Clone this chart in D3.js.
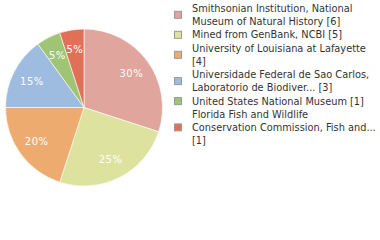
<!DOCTYPE html>
<html>
<head>
<meta charset="utf-8">
<script src="https://cdn.jsdelivr.net/npm/d3@7"></script>
<style>
  body { margin: 0; background: #fff; }
  text { font-family: "DejaVu Sans", Verdana, sans-serif; }
</style>
</head>
<body>
<div id="chart"></div>
<script>
var names = [
  ["Smithsonian Institution, National", "Museum of Natural History [6]"],
  ["Mined from GenBank, NCBI [5]"],
  ["University of Louisiana at Lafayette", "[4]"],
  ["Universidade Federal de Sao Carlos,", "Laboratorio de Biodiver... [3]"],
  ["United States National Museum [1]"],
  ["Florida Fish and Wildlife", "Conservation Commission, Fish and...", "[1]"]
];
var counts = [6, 5, 4, 3, 1, 1];
var colors = ["#e0a59d", "#dde39f", "#eeab6f", "#9ebbe0", "#9ec474", "#e07158"];

var svg = d3.select("#chart").append("svg")
  .attr("width", 380)
  .attr("height", 240);

var cx = 84, cy = 107.5, r = 78.5;
var total = d3.sum(counts);

var pie = d3.pie().sort(null).value(function(d){ return d; });
var arc = d3.arc().innerRadius(0).outerRadius(r);
var labelArc = d3.arc().innerRadius(r * 0.745).outerRadius(r * 0.745);

var g = svg.append("g").attr("transform", "translate(" + cx + "," + cy + ")");
var arcs = pie(counts);

g.selectAll("path")
  .data(arcs)
  .enter().append("path")
  .attr("d", arc)
  .attr("fill", function(d, i){ return colors[i]; })
  .attr("stroke", "#fff")
  .attr("stroke-width", 0.6);

g.selectAll("text")
  .data(arcs)
  .enter().append("text")
  .attr("transform", function(d){ return "translate(" + labelArc.centroid(d) + ")"; })
  .attr("text-anchor", "middle")
  .attr("dy", "0.36em")
  .attr("fill", "#fff")
  .attr("font-size", "10px")
  .attr("letter-spacing", "0.5px")
  .text(function(d){ return Math.round(d.data / total * 100) + "%"; });

// legend
var lineH = 12.6, gap = 1.1;
var y = 12;
var legend = svg.append("g");
names.forEach(function(lines, i){
  var item = legend.append("g");
  var first = y;
  lines.forEach(function(t, j){
    item.append("text")
      .attr("x", 192)
      .attr("y", y)
      .attr("font-size", "9.8px")
      .attr("fill", "#333")
      .text(t);
    if (j < lines.length - 1) y += lineH;
  });
  var mid = (first + y) / 2 - 3.5;
  item.append("rect")
    .attr("x", 174.5)
    .attr("y", mid - 3.5)
    .attr("width", 7)
    .attr("height", 7)
    .attr("fill", colors[i])
    .attr("stroke", "#999")
    .attr("stroke-width", 1);
  y += lineH + gap;
});
</script>
</body>
</html>
